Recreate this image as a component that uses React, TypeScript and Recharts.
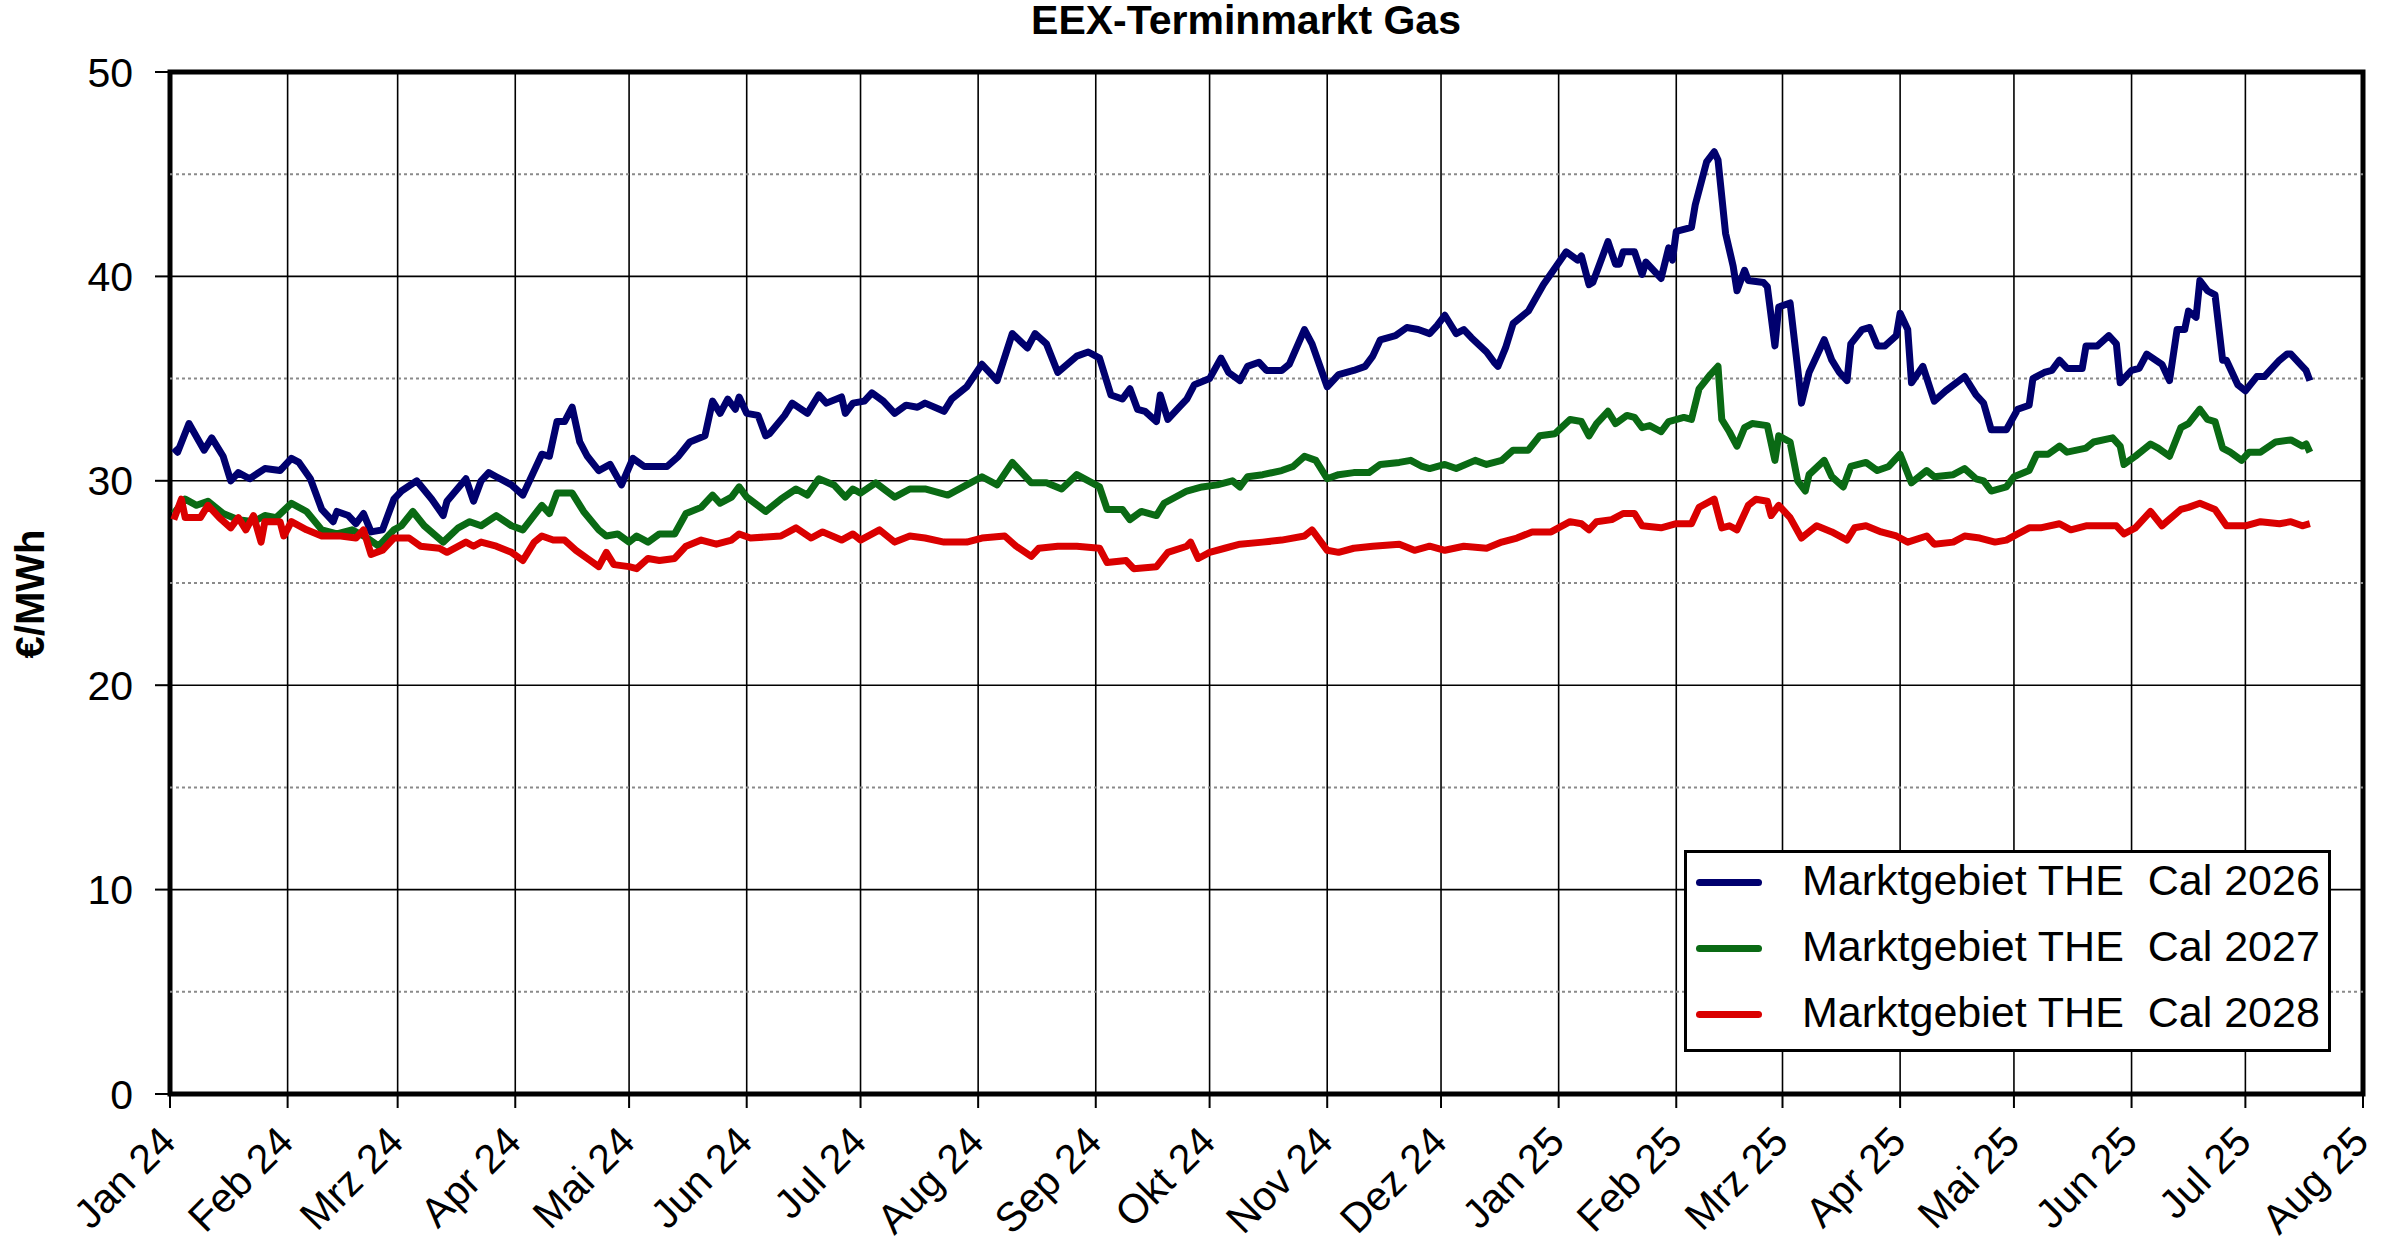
import { LineChart, Line, XAxis, YAxis, CartesianGrid, ReferenceLine, ReferenceArea } from 'recharts';

// x positions are days since 1 Jan 2024
const monthTicks = [0, 31, 60, 91, 121, 152, 182, 213, 244, 274, 305, 335, 366, 397, 425, 456, 486, 517, 547, 578];
const monthLabels = [
  'Jan 24', 'Feb 24', 'Mrz 24', 'Apr 24', 'Mai 24', 'Jun 24', 'Jul 24', 'Aug 24', 'Sep 24', 'Okt 24',
  'Nov 24', 'Dez 24', 'Jan 25', 'Feb 25', 'Mrz 25', 'Apr 25', 'Mai 25', 'Jun 25', 'Jul 25', 'Aug 25',
];
const valueTicks = [0, 10, 20, 30, 40, 50];
const minorTicks = [5, 15, 25, 35, 45];

const cal2026: [number, number][] = [
  [1, 31.6], [2, 31.4], [5, 32.8], [9, 31.5], [11, 32.1], [14, 31.2], [16, 30.0], [18, 30.4], [21, 30.1], [25, 30.6],
  [29, 30.5], [32, 31.1], [34, 30.9], [37, 30.1], [40, 28.6], [43, 28.0], [44, 28.5], [47, 28.3], [49, 27.9], [51, 28.4],
  [53, 27.5], [56, 27.6], [59, 29.1], [61, 29.5], [65, 30.0], [69, 29.1], [72, 28.3], [73, 29.0], [78, 30.1], [80, 29.0],
  [82, 30.0], [84, 30.4], [86, 30.2], [90, 29.8], [93, 29.3], [98, 31.3], [100, 31.2], [102, 32.9], [104, 32.9], [106, 33.6],
  [108, 31.9], [110, 31.2], [113, 30.5], [116, 30.8], [119, 29.8], [122, 31.1], [125, 30.7], [129, 30.7], [131, 30.7], [134, 31.2],
  [137, 31.9], [141, 32.2], [143, 33.9], [145, 33.3], [147, 34.0], [149, 33.5], [150, 34.1], [152, 33.3], [155, 33.2], [157, 32.2],
  [158, 32.3], [162, 33.2], [164, 33.8], [168, 33.3], [171, 34.2], [173, 33.8], [177, 34.1], [178, 33.3], [180, 33.8], [183, 33.9],
  [185, 34.3], [188, 33.9], [191, 33.3], [194, 33.7], [197, 33.6], [199, 33.8], [204, 33.4], [206, 34.0], [210, 34.6], [214, 35.7],
  [218, 34.9], [222, 37.2], [226, 36.5], [228, 37.2], [231, 36.7], [234, 35.3], [239, 36.1], [242, 36.3], [245, 36.0], [248, 34.2],
  [251, 34.0], [253, 34.5], [255, 33.5], [257, 33.4], [260, 32.9], [261, 34.2], [263, 33.0], [266, 33.6], [268, 34.0], [270, 34.7],
  [274, 35.0], [277, 36.0], [279, 35.3], [282, 34.9], [284, 35.6], [287, 35.8], [289, 35.4], [293, 35.4], [295, 35.7], [299, 37.4],
  [301, 36.7], [305, 34.6], [308, 35.2], [312, 35.4], [315, 35.6], [317, 36.1], [319, 36.9], [323, 37.1], [326, 37.5], [329, 37.4],
  [332, 37.2], [334, 37.6], [336, 38.1], [338, 37.5], [339, 37.2], [341, 37.4], [343, 37.0], [347, 36.3], [349, 35.8], [350, 35.6],
  [352, 36.5], [354, 37.7], [358, 38.3], [362, 39.6], [368, 41.2], [371, 40.8], [372, 41.0], [374, 39.6], [375, 39.7], [379, 41.7],
  [381, 40.6], [382, 40.6], [383, 41.2], [386, 41.2], [388, 40.1], [389, 40.7], [393, 39.9], [395, 41.4], [396, 40.8], [397, 42.2],
  [401, 42.4], [402, 43.5], [405, 45.6], [407, 46.1], [408, 45.7], [410, 42.1], [412, 40.5], [413, 39.3], [415, 40.3], [416, 39.8],
  [420, 39.7], [421, 39.5], [423, 36.6], [424, 38.5], [427, 38.7], [429, 35.5], [430, 33.8], [432, 35.3], [436, 36.9], [438, 35.9],
  [440, 35.3], [442, 34.9], [443, 36.7], [446, 37.4], [448, 37.5], [450, 36.6], [452, 36.6], [455, 37.1], [456, 38.2], [458, 37.4],
  [459, 34.8], [462, 35.6], [465, 33.9], [468, 34.4], [473, 35.1], [476, 34.2], [478, 33.8], [480, 32.5], [484, 32.5], [487, 33.5],
  [490, 33.7], [491, 35.0], [494, 35.3], [496, 35.4], [498, 35.9], [500, 35.5], [504, 35.5], [505, 36.6], [508, 36.6], [511, 37.1],
  [513, 36.7], [514, 34.8], [517, 35.4], [519, 35.5], [521, 36.2], [525, 35.7], [527, 34.9], [529, 37.4], [531, 37.4], [532, 38.3],
  [534, 38.0], [535, 39.8], [537, 39.3], [539, 39.1], [541, 35.9], [542, 35.9], [545, 34.7], [547, 34.4], [550, 35.1], [552, 35.1],
  [556, 35.9], [558, 36.2], [559, 36.2], [562, 35.6], [563, 35.4], [564, 34.9],
];

const cal2027: [number, number][] = [
  [1, 28.4], [4, 29.1], [7, 28.8], [10, 29.0], [14, 28.4], [18, 28.1], [22, 28.0], [25, 28.3], [28, 28.2], [32, 28.9],
  [36, 28.5], [40, 27.6], [44, 27.4], [48, 27.6], [52, 27.2], [55, 26.8], [59, 27.6], [61, 27.8], [64, 28.5], [67, 27.8],
  [72, 27.0], [76, 27.7], [79, 28.0], [82, 27.8], [86, 28.3], [90, 27.8], [93, 27.6], [98, 28.8], [100, 28.4], [102, 29.4],
  [106, 29.4], [109, 28.5], [113, 27.6], [115, 27.3], [118, 27.4], [121, 27.0], [123, 27.3], [126, 27.0], [129, 27.4], [133, 27.4],
  [136, 28.4], [140, 28.7], [143, 29.3], [145, 28.9], [148, 29.2], [150, 29.7], [152, 29.2], [157, 28.5], [161, 29.1], [165, 29.6],
  [168, 29.3], [171, 30.1], [175, 29.8], [178, 29.2], [180, 29.6], [182, 29.4], [186, 29.9], [191, 29.2], [195, 29.6], [199, 29.6],
  [205, 29.3], [210, 29.8], [214, 30.2], [218, 29.8], [222, 30.9], [227, 29.9], [231, 29.9], [235, 29.6], [239, 30.3], [245, 29.7],
  [247, 28.6], [251, 28.6], [253, 28.1], [256, 28.5], [260, 28.3], [262, 28.9], [268, 29.5], [272, 29.7], [276, 29.8], [280, 30.0],
  [282, 29.7], [284, 30.2], [288, 30.3], [293, 30.5], [296, 30.7], [299, 31.2], [302, 31.0], [305, 30.1], [308, 30.3], [312, 30.4],
  [316, 30.4], [319, 30.8], [324, 30.9], [327, 31.0], [330, 30.7], [332, 30.6], [336, 30.8], [339, 30.6], [344, 31.0], [347, 30.8],
  [351, 31.0], [354, 31.5], [358, 31.5], [361, 32.2], [365, 32.3], [369, 33.0], [372, 32.9], [374, 32.2], [376, 32.8], [379, 33.4],
  [381, 32.8], [384, 33.2], [386, 33.1], [388, 32.6], [390, 32.7], [393, 32.4], [395, 32.9], [399, 33.1], [401, 33.0], [403, 34.5],
  [406, 35.2], [408, 35.6], [409, 33.0], [411, 32.4], [413, 31.7], [415, 32.6], [417, 32.8], [421, 32.7], [423, 31.0], [424, 32.2],
  [427, 31.9], [429, 30.0], [431, 29.5], [432, 30.3], [436, 31.0], [438, 30.2], [441, 29.7], [443, 30.7], [447, 30.9], [450, 30.5],
  [453, 30.7], [456, 31.3], [459, 29.9], [463, 30.5], [465, 30.2], [470, 30.3], [473, 30.6], [476, 30.1], [478, 30.0], [480, 29.5],
  [484, 29.7], [486, 30.2], [490, 30.5], [492, 31.3], [495, 31.3], [498, 31.7], [500, 31.4], [505, 31.6], [507, 31.9], [512, 32.1],
  [514, 31.7], [515, 30.8], [518, 31.2], [522, 31.8], [524, 31.6], [527, 31.2], [530, 32.6], [532, 32.8], [535, 33.5], [537, 33.0],
  [539, 32.9], [541, 31.6], [543, 31.4], [546, 31.0], [548, 31.4], [551, 31.4], [555, 31.9], [559, 32.0], [562, 31.7], [563, 31.8],
  [564, 31.4],
];

const cal2028: [number, number][] = [
  [1, 28.1], [3, 29.1], [4, 28.2], [8, 28.2], [10, 28.8], [13, 28.2], [16, 27.7], [18, 28.2], [20, 27.6], [22, 28.3],
  [24, 27.0], [25, 28.0], [29, 28.0], [30, 27.3], [32, 28.0], [36, 27.6], [40, 27.3], [45, 27.3], [49, 27.2], [51, 27.6],
  [53, 26.4], [56, 26.6], [59, 27.2], [63, 27.2], [66, 26.8], [71, 26.7], [73, 26.5], [78, 27.0], [80, 26.8], [82, 27.0],
  [86, 26.8], [90, 26.5], [93, 26.1], [96, 27.0], [98, 27.3], [101, 27.1], [104, 27.1], [107, 26.6], [110, 26.2], [113, 25.8],
  [115, 26.5], [117, 25.9], [121, 25.8], [123, 25.7], [126, 26.2], [129, 26.1], [133, 26.2], [136, 26.8], [140, 27.1], [144, 26.9],
  [148, 27.1], [150, 27.4], [153, 27.2], [161, 27.3], [165, 27.7], [169, 27.2], [172, 27.5], [177, 27.1], [180, 27.4], [182, 27.1],
  [187, 27.6], [191, 27.0], [195, 27.3], [199, 27.2], [204, 27.0], [210, 27.0], [214, 27.2], [220, 27.3], [223, 26.8], [227, 26.3],
  [229, 26.7], [234, 26.8], [239, 26.8], [245, 26.7], [247, 26.0], [252, 26.1], [254, 25.7], [260, 25.8], [263, 26.5], [268, 26.8],
  [269, 27.0], [271, 26.2], [274, 26.5], [278, 26.7], [282, 26.9], [288, 27.0], [293, 27.1], [299, 27.3], [301, 27.6], [305, 26.6],
  [308, 26.5], [312, 26.7], [317, 26.8], [324, 26.9], [328, 26.6], [332, 26.8], [336, 26.6], [341, 26.8], [347, 26.7], [351, 27.0],
  [355, 27.2], [359, 27.5], [364, 27.5], [369, 28.0], [372, 27.9], [374, 27.6], [376, 28.0], [380, 28.1], [383, 28.4], [386, 28.4],
  [388, 27.8], [393, 27.7], [397, 27.9], [401, 27.9], [403, 28.7], [407, 29.1], [409, 27.7], [411, 27.8], [413, 27.6], [416, 28.8],
  [418, 29.1], [421, 29.0], [422, 28.3], [424, 28.8], [427, 28.2], [430, 27.2], [434, 27.8], [438, 27.5], [442, 27.1], [444, 27.7],
  [447, 27.8], [451, 27.5], [455, 27.3], [458, 27.0], [463, 27.3], [465, 26.9], [470, 27.0], [473, 27.3], [477, 27.2], [481, 27.0],
  [484, 27.1], [487, 27.4], [490, 27.7], [493, 27.7], [498, 27.9], [501, 27.6], [505, 27.8], [510, 27.8], [513, 27.8], [515, 27.4],
  [518, 27.7], [522, 28.5], [525, 27.8], [530, 28.6], [532, 28.7], [535, 28.9], [539, 28.6], [542, 27.8], [547, 27.8], [551, 28.0],
  [556, 27.9], [559, 28.0], [562, 27.8], [564, 27.9],
];

const seriesNames = ['Marktgebiet THE  Cal 2026', 'Marktgebiet THE  Cal 2027', 'Marktgebiet THE  Cal 2028'];
const seriesColors = ['#00006E', '#0A6A14', '#DA0000'];
const seriesData = [cal2026, cal2027, cal2028].map((s) => s.map(([day, value]) => ({ day, value })));

const FONT = '"Liberation Sans", Arial, sans-serif';

const MonthTick = ({ x = 0, y = 0, index = 0 }: { x?: number; y?: number; index?: number }) => (
  <text
    transform={`translate(${x + 8},${y + 34}) rotate(-45)`}
    textAnchor="end"
    fontSize={41}
    fontFamily={FONT}
    fill="#000"
  >
    {monthLabels[index]}
  </text>
);

function App() {
  return (
    <div style={{ position: 'absolute', left: 0, top: 0, width: 2400, height: 1255, background: '#fff', fontFamily: FONT }}>
      <div
        style={{
          position: 'absolute', left: 946, top: 0, width: 600, textAlign: 'center',
          fontSize: 41, lineHeight: '41px', fontWeight: 'bold',
        }}
      >
        EEX-Terminmarkt Gas
      </div>
      <div
        style={{
          position: 'absolute', left: 30, top: 594, transform: 'translate(-50%, -50%) rotate(-90deg)',
          fontSize: 40, lineHeight: '40px', fontWeight: 'bold', whiteSpace: 'nowrap',
        }}
      >
        €/MWh
      </div>
      <LineChart width={2400} height={1255} margin={{ top: 72, right: 37, bottom: 11, left: 0 }}>
        <CartesianGrid stroke="#000" strokeWidth={1.6} />
        {minorTicks.map((v) => (
          <ReferenceLine key={v} y={v} stroke="#8a8a8a" strokeWidth={2} strokeDasharray="3 3" />
        ))}
        <XAxis
          type="number"
          dataKey="day"
          domain={[0, 578]}
          ticks={monthTicks}
          interval={0}
          height={150}
          axisLine={false}
          tickSize={14}
          tickLine={{ stroke: '#000', strokeWidth: 2 }}
          tick={<MonthTick />}
        />
        <YAxis
          type="number"
          domain={[0, 50]}
          ticks={valueTicks}
          width={170}
          axisLine={false}
          tickSize={15}
          tickMargin={22}
          tickLine={{ stroke: '#000', strokeWidth: 2 }}
          tick={{ fontSize: 41, fill: '#000', fontFamily: FONT }}
        />
        {seriesData.map((d, i) => (
          <Line
            key={seriesNames[i]}
            data={d}
            dataKey="value"
            name={seriesNames[i]}
            type="linear"
            stroke={seriesColors[i]}
            strokeWidth={7}
            strokeLinejoin="round"
            dot={false}
            isAnimationActive={false}
          />
        ))}
        <ReferenceArea x1={0} x2={578} y1={0} y2={50} fill="none" stroke="#000" strokeWidth={5} ifOverflow="visible" />
      </LineChart>
      <div
        style={{
          position: 'absolute', left: 1684, top: 850, width: 647, height: 202, boxSizing: 'border-box',
          border: '3px solid #000', background: '#fff',
        }}
      >
        {seriesNames.map((name, i) => (
          <div key={name} style={{ position: 'absolute', left: 0, top: 5 + i * 66, height: 48, width: '100%' }}>
            <div
              style={{
                position: 'absolute', left: 9, top: 21, width: 66, height: 7, borderRadius: 3.5,
                background: seriesColors[i],
              }}
            />
            <div
              style={{
                position: 'absolute', left: 115, top: 1, fontSize: 43, lineHeight: '43px', whiteSpace: 'pre',
              }}
            >
              {name}
            </div>
          </div>
        ))}
      </div>
    </div>
  );
}

export default App;
